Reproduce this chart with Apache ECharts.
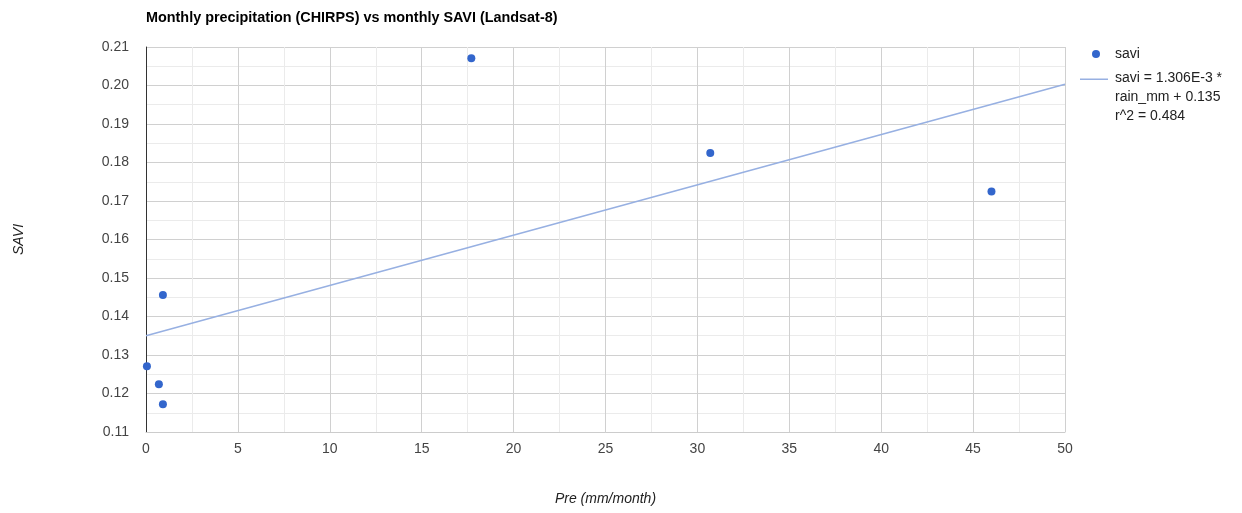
<!DOCTYPE html>
<html>
<head>
<meta charset="utf-8">
<script src="https://cdn.jsdelivr.net/npm/echarts@6/dist/echarts.min.js"></script>
<style>html,body{margin:0;padding:0;background:#fff}#c{width:1242px;height:513px}</style>
</head>
<body>
<div id="c"></div>
<script>
const rainMm = [0.05, 0.7, 0.92, 0.92, 17.7, 30.7, 46.0];
const saviVals = [0.1271, 0.1224, 0.1172, 0.1456, 0.2071, 0.1825, 0.1725];
const trendSlope = 1.306e-3;
const trendIntercept = 0.135;
const trendX = [0, 50];
const trendLabel = 'savi = 1.306E-3 *\nrain_mm + 0.135\nr^2 = 0.484';
const xTicks = [0, 5, 10, 15, 20, 25, 30, 35, 40, 45, 50];
const yTicks = [0.11, 0.12, 0.13, 0.14, 0.15, 0.16, 0.17, 0.18, 0.19, 0.20, 0.21];

const font = 'Liberation Sans, Arial, sans-serif';
const chart = echarts.init(document.getElementById('c'));
chart.setOption({
  animation: false,
  title: {
    text: 'Monthly precipitation (CHIRPS) vs monthly SAVI (Landsat-8)',
    left: 141, top: 6,
    textStyle: {fontFamily: font, fontSize: 14.4, fontWeight: 'bold', color: '#000'}
  },
  legend: [{
    orient: 'vertical', left: 1092, top: 47, padding: 0,
    itemWidth: 8, itemHeight: 8,
    data: [{name: 'savi', icon: 'circle'}],
    textStyle: {fontFamily: font, fontSize: 14, color: '#222', padding: [0,0,0,10]}
  }, {
    orient: 'vertical', left: 1080, top: 69, padding: 0,
    itemWidth: 28, itemHeight: 38,
    data: [{name: trendLabel, icon: 'path://M0,0 L28,0 L28,1.5 L0,1.5 Z M0,38 L28,38 L28,38 Z'}],
    textStyle: {fontFamily: font, fontSize: 14, color: '#222', lineHeight: 19, padding: [0,0,0,2]}
  }],
  grid: {left: 146, right: 177, top: 47, bottom: 81},
  xAxis: {
    type: 'value', min: 0, max: 50, interval: 5,
    name: 'Pre (mm/month)', nameLocation: 'middle', nameGap: 60,
    nameTextStyle: {fontFamily: font, fontSize: 14, fontStyle: 'italic', color: '#222'},
    axisLine: {show: true, onZero: false, lineStyle: {color: '#ccc', width: 1}},
    axisTick: {show: false},
    axisLabel: {fontFamily: font, fontSize: 14, color: '#444', margin: 10,
      formatter: v => xTicks.includes(v) ? String(v) : ''},
    splitLine: {show: true, lineStyle: {color: '#d0d0d0', width: 1}},
    minorTick: {show: false, splitNumber: 2},
    minorSplitLine: {show: true, lineStyle: {color: '#ebebeb', width: 1}}
  },
  yAxis: {
    type: 'value', min: 0.11, max: 0.21, interval: 0.01,
    name: 'SAVI', nameLocation: 'middle', nameGap: 120, nameRotate: 90,
    nameTextStyle: {fontFamily: font, fontSize: 14, fontStyle: 'italic', color: '#222'},
    axisLine: {show: true, onZero: false, lineStyle: {color: '#333', width: 1}},
    axisTick: {show: false},
    axisLabel: {fontFamily: font, fontSize: 14, color: '#444', margin: 17,
      formatter: v => v.toFixed(2)},
    splitLine: {show: true, lineStyle: {color: '#d0d0d0', width: 1}},
    minorTick: {show: false, splitNumber: 2},
    minorSplitLine: {show: true, lineStyle: {color: '#ebebeb', width: 1}}
  },
  series: [{
    name: 'savi', type: 'scatter', symbolSize: 8,
    itemStyle: {color: '#3366cc', opacity: 1},
    data: rainMm.map((x, i) => [x, saviVals[i]]),
    z: 5
  }, {
    name: trendLabel, type: 'line', symbol: 'none',
    lineStyle: {color: '#97b0e2', width: 1.6},
    itemStyle: {color: '#97b0e2'},
    data: trendX.map(x => [x, trendSlope * x + trendIntercept]),
    z: 3
  }]
});
</script>
</body>
</html>
